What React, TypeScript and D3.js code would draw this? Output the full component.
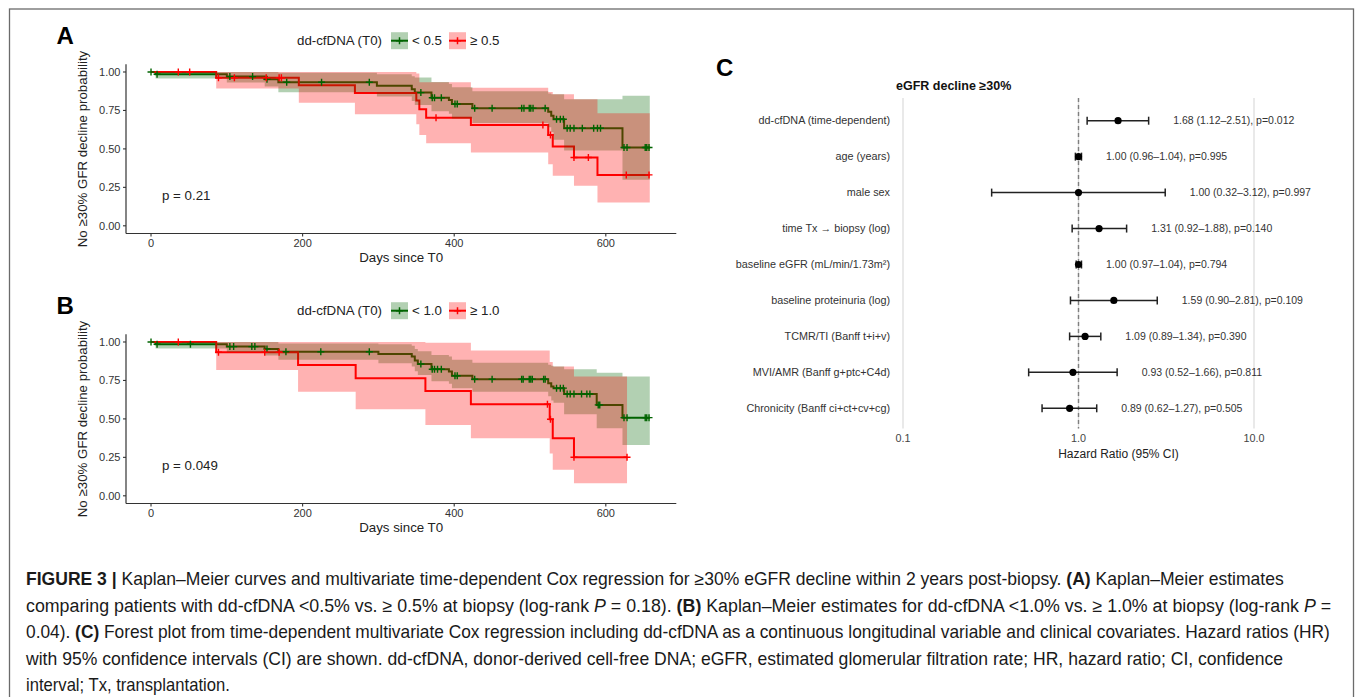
import React, { useLayoutEffect, useRef } from "react";
import * as d3 from "d3";

type Step = [number, number, number, number]; // time, surv, lower, upper

// ---------- Kaplan–Meier data ----------
const kmTicksX = [0, 200, 400, 600];
const kmTicksY = [0, 0.25, 0.5, 0.75, 1.0];
const kmTickLabelsY = ["0.00", "0.25", "0.50", "0.75", "1.00"];

const aGreenSteps: Step[] = [
  [0, 1, 1, 1],
  [6, 0.985, 0.957, 1.0],
  [100, 0.97, 0.932, 1.0],
  [150, 0.953, 0.905, 1.0],
  [168, 0.933, 0.868, 0.995],
  [298, 0.911, 0.84, 0.985],
  [344, 0.888, 0.812, 0.972],
  [348, 0.866, 0.785, 0.965],
  [370, 0.833, 0.745, 0.935],
  [393, 0.818, 0.728, 0.922],
  [397, 0.792, 0.698, 0.9],
  [424, 0.764, 0.668, 0.875],
  [524, 0.742, 0.64, 0.86],
  [528, 0.716, 0.61, 0.855],
  [531, 0.693, 0.56, 0.855],
  [545, 0.634, 0.49, 0.823],
  [622, 0.509, 0.3, 0.846],
];
const aGreenEnd = 658;
const aGreenCensor = [0, 8, 104, 134, 153, 179, 225, 288, 356, 371, 374, 383, 401, 404, 427, 450, 489, 492, 499, 501, 504, 520, 535, 540, 544, 549, 553, 558, 569, 584, 589, 593, 624, 628, 652, 654, 657];

const aRedSteps: Step[] = [
  [0, 1, 1, 1],
  [86, 0.963, 0.893, 1.0],
  [195, 0.913, 0.8, 1.0],
  [269, 0.863, 0.725, 1.0],
  [350, 0.814, 0.66, 0.99],
  [354, 0.758, 0.591, 0.933],
  [363, 0.703, 0.537, 0.933],
  [422, 0.656, 0.476, 0.898],
  [524, 0.591, 0.4, 0.87],
  [530, 0.515, 0.325, 0.855],
  [558, 0.444, 0.26, 0.823],
  [589, 0.331, 0.151, 0.732],
];
const aRedEnd = 658;
const aRedCensor = [36, 51, 89, 110, 152, 169, 172, 376, 517, 527, 558, 577, 627, 657];

const bGreenSteps: Step[] = [
  [0, 1, 1, 1],
  [6, 0.985, 0.957, 1.0],
  [100, 0.97, 0.935, 1.0],
  [150, 0.955, 0.912, 1.0],
  [168, 0.937, 0.885, 0.99],
  [300, 0.922, 0.862, 0.985],
  [344, 0.905, 0.84, 0.975],
  [348, 0.879, 0.81, 0.955],
  [352, 0.857, 0.785, 0.94],
  [370, 0.823, 0.745, 0.915],
  [393, 0.808, 0.728, 0.905],
  [397, 0.781, 0.7, 0.885],
  [424, 0.758, 0.677, 0.865],
  [524, 0.732, 0.648, 0.852],
  [528, 0.71, 0.62, 0.845],
  [531, 0.7, 0.605, 0.84],
  [545, 0.662, 0.53, 0.823],
  [588, 0.591, 0.44, 0.8],
  [622, 0.508, 0.331, 0.775],
];
const bGreenEnd = 658;
const bGreenCensor = [0, 8, 52, 104, 109, 133, 137, 153, 178, 224, 288, 356, 371, 374, 378, 383, 401, 404, 427, 450, 489, 491, 499, 501, 503, 518, 520, 535, 540, 544, 549, 553, 558, 568, 575, 579, 590, 592, 624, 628, 652, 654, 657];

const bRedSteps: Step[] = [
  [0, 1, 1, 1],
  [86, 0.933, 0.818, 1.0],
  [194, 0.851, 0.677, 1.0],
  [270, 0.764, 0.563, 1.0],
  [362, 0.682, 0.461, 0.995],
  [422, 0.595, 0.375, 0.944],
  [526, 0.498, 0.275, 0.87],
  [530, 0.375, 0.169, 0.84],
  [558, 0.251, 0.082, 0.775],
];
const bRedEnd = 628;
const bRedCensor = [36, 89, 150, 169, 523, 527, 558, 628];

const aLegendLabels = ["< 0.5", "\u2265 0.5"];
const bLegendLabels = ["< 1.0", "\u2265 1.0"];

// ---------- Forest plot data ----------
const fLabels = [
  "dd-cfDNA (time-dependent)",
  "age (years)",
  "male sex",
  "time Tx \u2192 biopsy (log)",
  "baseline eGFR (mL/min/1.73m\u00b2)",
  "baseline proteinuria (log)",
  "TCMR/TI (Banff t+i+v)",
  "MVI/AMR (Banff g+ptc+C4d)",
  "Chronicity (Banff ci+ct+cv+cg)",
];
const fHR = [1.68, 1.0, 1.0, 1.31, 1.0, 1.59, 1.09, 0.93, 0.89];
const fLo = [1.12, 0.96, 0.32, 0.92, 0.97, 0.9, 0.89, 0.52, 0.62];
const fHi = [2.51, 1.04, 3.12, 1.88, 1.04, 2.81, 1.34, 1.66, 1.27];
const fP = ["0.012", "0.995", "0.997", "0.140", "0.794", "0.109", "0.390", "0.811", "0.505"];
const fTicks = [0.1, 1, 10];
const fTickLabels = ["0.1", "1.0", "10.0"];

// ---------- Caption ----------
type Seg = [string, string];
const captionLines: Seg[][] = [
  [["b", "FIGURE 3 |"], ["n", " Kaplan\u2013Meier curves and multivariate time-dependent Cox regression for \u226530% eGFR decline within 2 years post-biopsy. "], ["b", "(A)"], ["n", " Kaplan\u2013Meier estimates"]],
  [["n", "comparing patients with dd-cfDNA <0.5% vs. \u2265 0.5% at biopsy (log-rank "], ["i", "P"], ["n", " = 0.18). "], ["b", "(B)"], ["n", " Kaplan\u2013Meier estimates for dd-cfDNA <1.0% vs. \u2265 1.0% at biopsy (log-rank "], ["i", "P"], ["n", " ="]],
  [["n", "0.04). "], ["b", "(C)"], ["n", " Forest plot from time-dependent multivariate Cox regression including dd-cfDNA as a continuous longitudinal variable and clinical covariates. Hazard ratios (HR)"]],
  [["n", "with 95% confidence intervals (CI) are shown. dd-cfDNA, donor-derived cell-free DNA; eGFR, estimated glomerular filtration rate; HR, hazard ratio; CI, confidence"]],
  [["n", "interval; Tx, transplantation."]],
];
const captionEnds = [1284, 1332, 1331, 1284, 230];
const captionBaselines = [585, 611.5, 638, 664.5, 691];

const FONT = "'Liberation Sans', Arial, Helvetica, sans-serif";
const GREEN = "#006400";
const RED = "#FF0000";

function survAt(steps: Step[], t: number): number {
  let s = steps[0][1];
  for (const st of steps) if (st[0] <= t) s = st[1];
  return s;
}

function KMPanel(props: {
  top: number;
  green: Step[]; greenEnd: number; greenCens: number[];
  red: Step[]; redEnd: number; redCens: number[];
  letter: string; pText: string; labels: string[];
}) {
  const { top } = props;
  const x = d3.scaleLinear().domain([-33, 693]).range([126, 676.3]);
  const y = d3.scaleLinear().domain([-0.05, 1.05]).range([233.5 + top, 64.3 + top]);
  const ext = (s: Step[], end: number): Step[] => {
    const l = s[s.length - 1];
    return [...s, [end, l[1], l[2], l[3]]];
  };
  const line = d3.line<Step>().curve(d3.curveStepAfter).x((d) => x(d[0])).y((d) => y(d[1]));
  const area = d3.area<Step>().curve(d3.curveStepAfter).x((d) => x(d[0])).y0((d) => y(d[2])).y1((d) => y(d[3]));
  const plus = (cx: number, cy: number) => `M${cx - 3.5},${cy}h7M${cx},${cy - 3.5}v7`;
  const x0 = x(-33), x1 = x(693), yb = y(-0.05), yt = y(1.05);
  const legY = 40.7 + top;
  const keyBox = (kx: number, color: string) => (
    <g>
      <rect x={kx} y={legY - 8.5} width={17} height={17} fill={color} fillOpacity={0.3} />
      <line x1={kx} x2={kx + 17} y1={legY} y2={legY} stroke={color} strokeWidth={2} />
      <path d={plus(kx + 8.5, legY)} stroke={color} strokeWidth={1.5} />
    </g>
  );
  return (
    <g fontFamily={FONT}>
      <path d={line(ext(props.green, props.greenEnd)) || ""} fill="none" stroke={GREEN} strokeWidth={2} />
      <path d={line(ext(props.red, props.redEnd)) || ""} fill="none" stroke={RED} strokeWidth={2} />
      <path d={area(ext(props.green, props.greenEnd)) || ""} fill={GREEN} fillOpacity={0.3} />
      <path d={area(ext(props.red, props.redEnd)) || ""} fill={RED} fillOpacity={0.3} />
      {props.greenCens.map((t, i) => (
        <path key={"g" + i} d={plus(x(t), y(survAt(props.green, t)))} stroke={GREEN} strokeWidth={1.4} />
      ))}
      {props.redCens.map((t, i) => (
        <path key={"r" + i} d={plus(x(t), y(survAt(props.red, t)))} stroke={RED} strokeWidth={1.4} />
      ))}
      {/* axes */}
      <line x1={x0} x2={x0} y1={yt} y2={yb} stroke="#333" strokeWidth={1.2} />
      <line x1={x0} x2={x1} y1={yb} y2={yb} stroke="#333" strokeWidth={1.2} />
      {kmTicksY.map((v, i) => (
        <g key={"yt" + i}>
          <line x1={x0 - 3} x2={x0} y1={y(v)} y2={y(v)} stroke="#333" strokeWidth={1.1} />
          <text x={x0 - 5.5} y={y(v)} dy="0.35em" textAnchor="end" fontSize={11} fill="#333">{kmTickLabelsY[i]}</text>
        </g>
      ))}
      {kmTicksX.map((v, i) => (
        <g key={"xt" + i}>
          <line x1={x(v)} x2={x(v)} y1={yb} y2={yb + 3} stroke="#333" strokeWidth={1.1} />
          <text x={x(v)} y={247 + top} textAnchor="middle" fontSize={11} fill="#333">{v}</text>
        </g>
      ))}
      <text x={(x0 + x1) / 2} y={262 + top} textAnchor="middle" fontSize={13.3} fill="#222">Days since T0</text>
      <text transform={`translate(86.5,${149 + top}) rotate(-90)`} textAnchor="middle" fontSize={13.3} fill="#222">No {"\u2265"}30% GFR decline probability</text>
      <text x={162} y={200 + top} fontSize={13.3} fill="#222">{props.pText}</text>
      {/* legend */}
      <text x={297} y={legY} dy="0.35em" fontSize={13.3} fill="#222">dd-cfDNA (T0)</text>
      {keyBox(391, GREEN)}
      <text x={412} y={legY} dy="0.35em" fontSize={13.3} fill="#222">{props.labels[0]}</text>
      {keyBox(449, RED)}
      <text x={470} y={legY} dy="0.35em" fontSize={13.3} fill="#222">{props.labels[1]}</text>
      <text x={56.5} y={43.5 + top} fontSize={24} fontWeight="bold" fill="#000">{props.letter}</text>
    </g>
  );
}

function Forest() {
  const x = d3.scaleLog().domain([0.1, 10]).range([903, 1254]);
  const y = d3.scalePoint<string>().domain(fLabels).range([120.7, 408.3]);
  const yTop = 98, yBot = 428.5;
  return (
    <g fontFamily={FONT}>
      <text x={716} y={76} fontSize={24} fontWeight="bold" fill="#000">C</text>
      <text x={896} y={89.5} fontSize={12.5} fontWeight="bold" fill="#111">eGFR decline {"\u2265"}30%</text>
      {fTicks.map((t, i) => (
        <line key={"g" + i} x1={x(t)} x2={x(t)} y1={yTop} y2={yBot} stroke="#dedede" strokeWidth={1.3} />
      ))}
      <line x1={x(1)} x2={x(1)} y1={yTop} y2={yBot} stroke="#7f7f7f" strokeWidth={1.4} strokeDasharray="4,3" />
      {fLabels.map((lab, i) => {
        const cy = y(lab) as number;
        return (
          <g key={lab}>
            <text x={890} y={cy} dy="0.35em" textAnchor="end" fontSize={10.8} fill="#333">{lab}</text>
            <line x1={x(fLo[i])} x2={x(fHi[i])} y1={cy} y2={cy} stroke="#222" strokeWidth={1.5} />
            <line x1={x(fLo[i])} x2={x(fLo[i])} y1={cy - 4} y2={cy + 4} stroke="#222" strokeWidth={1.5} />
            <line x1={x(fHi[i])} x2={x(fHi[i])} y1={cy - 4} y2={cy + 4} stroke="#222" strokeWidth={1.5} />
            <circle cx={x(fHR[i])} cy={cy} r={3.6} fill="#000" />
            <text x={x(fHi[i] * 1.38)} y={cy} dy="0.35em" fontSize={10.5} fill="#333">
              {`${fHR[i].toFixed(2)} (${fLo[i].toFixed(2)}\u2013${fHi[i].toFixed(2)}), p=${fP[i]}`}
            </text>
          </g>
        );
      })}
      {fTicks.map((t, i) => (
        <text key={"tl" + i} x={x(t)} y={441.8} textAnchor="middle" fontSize={10.8} fill="#444">{fTickLabels[i]}</text>
      ))}
      <text x={1118.5} y={457.5} textAnchor="middle" fontSize={12} fill="#222">Hazard Ratio (95% CI)</text>
    </g>
  );
}

function Caption() {
  const refs = useRef<(SVGTextElement | null)[]>([]);
  useLayoutEffect(() => {
    refs.current.forEach((el, i) => {
      if (!el) return;
      const w = el.getComputedTextLength();
      const k = w > 0 ? (captionEnds[i] - 26) / w : 1;
      el.setAttribute("transform", `translate(26,${captionBaselines[i]}) scale(${k},1)`);
    });
  }, []);
  return (
    <g fontFamily={FONT} fontSize={18} fill="#1a1a1a">
      {captionLines.map((segs, i) => (
        <text
          key={i}
          ref={(el) => { refs.current[i] = el; }}
          x={0}
          y={0}
          transform={`translate(26,${captionBaselines[i]})`}
          style={{ whiteSpace: "pre" }}
        >
          {segs.map((s, j) => (
            <tspan key={j} fontWeight={s[0] === "b" ? "bold" : "normal"} fontStyle={s[0] === "i" ? "italic" : "normal"}>
              {s[1]}
            </tspan>
          ))}
        </text>
      ))}
    </g>
  );
}

export default function App() {
  return (
    <svg
      width={1355}
      height={697}
      viewBox="0 0 1355 697"
      style={{ position: "absolute", left: 0, top: 0, background: "#fff" }}
    >
      <rect x={0} y={0} width={1355} height={697} fill="#fff" />
      <rect x={9.5} y={9} width={1344} height={720} fill="none" stroke="#6b6b6b" strokeWidth={1.3} />
      <KMPanel
        top={0}
        green={aGreenSteps} greenEnd={aGreenEnd} greenCens={aGreenCensor}
        red={aRedSteps} redEnd={aRedEnd} redCens={aRedCensor}
        letter="A" pText="p = 0.21" labels={aLegendLabels}
      />
      <KMPanel
        top={270}
        green={bGreenSteps} greenEnd={bGreenEnd} greenCens={bGreenCensor}
        red={bRedSteps} redEnd={bRedEnd} redCens={bRedCensor}
        letter="B" pText="p = 0.049" labels={bLegendLabels}
      />
      <Forest />
      <Caption />
    </svg>
  );
}
